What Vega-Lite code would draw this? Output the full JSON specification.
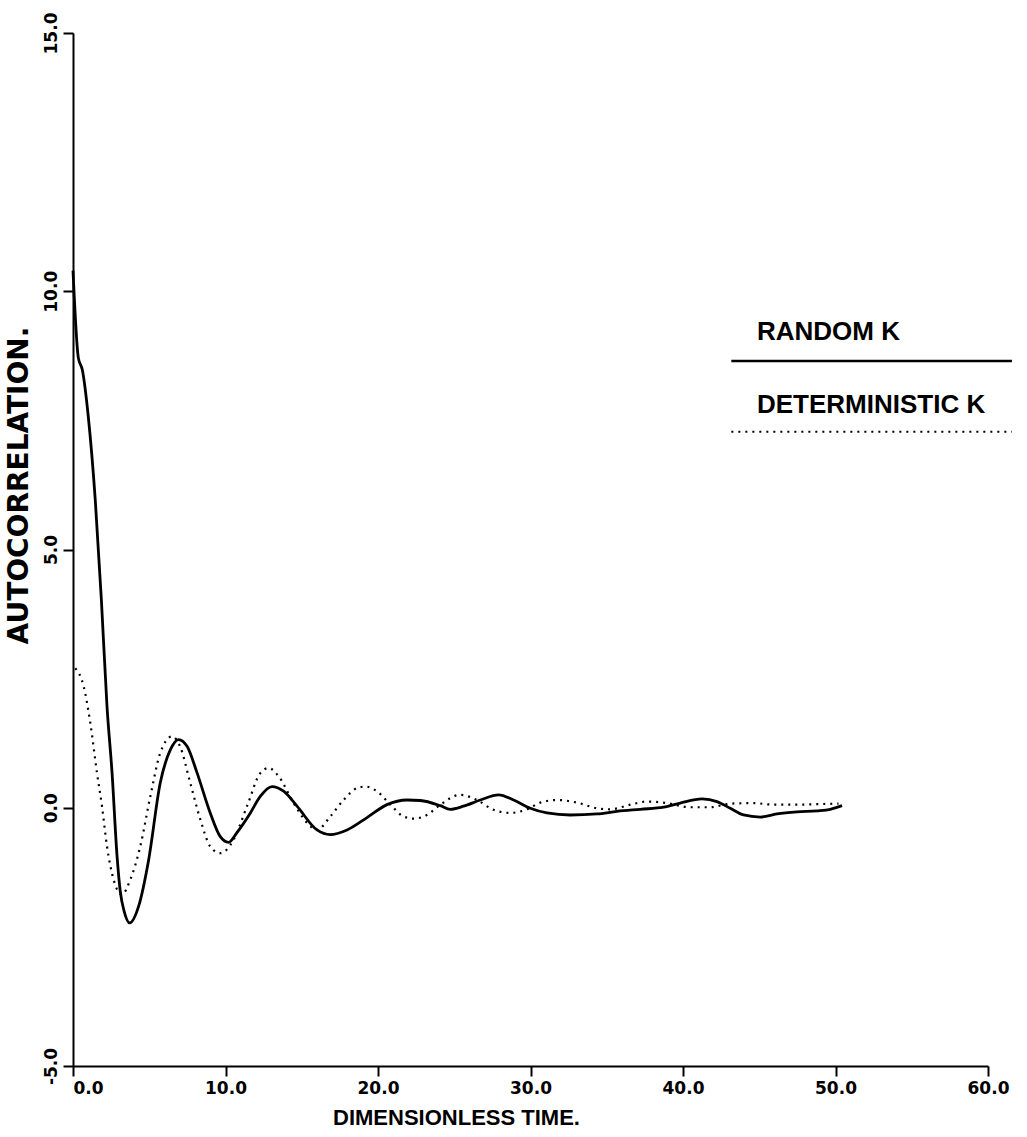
{
  "$schema": "https://vega.github.io/schema/vega-lite/v6.json",
  "width": 915,
  "height": 1033,
  "autosize": {"type": "none"},
  "padding": {"left": 73, "top": 33, "right": 39, "bottom": 71},
  "background": "white",
  "config": {"view": {"stroke": null}},
  "datasets": {
    "random": [
      {"t": 0.0, "v": 10.4}, {"t": 0.35, "v": 8.71}, {"t": 0.61, "v": 8.48}, {"t": 1.0, "v": 7.58},
      {"t": 1.46, "v": 5.96}, {"t": 1.86, "v": 4.03}, {"t": 2.23, "v": 1.96}, {"t": 2.56, "v": 0.68},
      {"t": 2.89, "v": -0.94}, {"t": 3.10, "v": -1.62}, {"t": 3.36, "v": -2.01}, {"t": 3.72, "v": -2.23},
      {"t": 4.30, "v": -1.91}, {"t": 4.96, "v": -1.01}, {"t": 5.72, "v": 0.48}, {"t": 6.38, "v": 1.12},
      {"t": 6.92, "v": 1.32}, {"t": 7.48, "v": 1.19}, {"t": 8.13, "v": 0.68}, {"t": 9.00, "v": -0.10},
      {"t": 9.66, "v": -0.56}, {"t": 10.20, "v": -0.67}, {"t": 10.75, "v": -0.48}, {"t": 11.63, "v": -0.10},
      {"t": 12.28, "v": 0.22}, {"t": 13.05, "v": 0.41}, {"t": 13.81, "v": 0.32}, {"t": 14.69, "v": 0.03},
      {"t": 16.00, "v": -0.43}, {"t": 16.87, "v": -0.52}, {"t": 17.97, "v": -0.43}, {"t": 19.28, "v": -0.19},
      {"t": 20.59, "v": 0.06}, {"t": 21.90, "v": 0.15}, {"t": 22.77, "v": 0.14}, {"t": 24.09, "v": 0.04},
      {"t": 24.74, "v": -0.03}, {"t": 25.61, "v": 0.03}, {"t": 26.71, "v": 0.15}, {"t": 27.91, "v": 0.25},
      {"t": 28.89, "v": 0.15}, {"t": 29.99, "v": -0.01}, {"t": 31.08, "v": -0.10}, {"t": 32.61, "v": -0.14},
      {"t": 34.36, "v": -0.12}, {"t": 35.67, "v": -0.07}, {"t": 37.20, "v": -0.03}, {"t": 38.73, "v": 0.01},
      {"t": 39.82, "v": 0.09}, {"t": 41.25, "v": 0.17}, {"t": 42.23, "v": 0.12}, {"t": 43.10, "v": -0.01},
      {"t": 43.97, "v": -0.14}, {"t": 45.07, "v": -0.18}, {"t": 46.16, "v": -0.12}, {"t": 47.48, "v": -0.08},
      {"t": 48.79, "v": -0.06}, {"t": 49.66, "v": -0.03}, {"t": 50.43, "v": 0.04}
    ],
    "deterministic": [
      {"t": 0.15, "v": 2.70}, {"t": 0.70, "v": 2.35}, {"t": 1.13, "v": 1.65}, {"t": 1.57, "v": 0.68},
      {"t": 1.90, "v": 0.03}, {"t": 2.23, "v": -0.75}, {"t": 2.66, "v": -1.39}, {"t": 3.21, "v": -1.68},
      {"t": 3.76, "v": -1.39}, {"t": 4.41, "v": -0.75}, {"t": 5.07, "v": 0.22}, {"t": 5.72, "v": 1.06},
      {"t": 6.49, "v": 1.38}, {"t": 7.02, "v": 1.19}, {"t": 7.69, "v": 0.48}, {"t": 8.35, "v": -0.23},
      {"t": 9.00, "v": -0.75}, {"t": 9.66, "v": -0.88}, {"t": 10.53, "v": -0.62}, {"t": 11.41, "v": 0.03},
      {"t": 12.28, "v": 0.67}, {"t": 12.83, "v": 0.77}, {"t": 13.48, "v": 0.61}, {"t": 14.47, "v": 0.09},
      {"t": 15.34, "v": -0.29}, {"t": 16.00, "v": -0.43}, {"t": 16.87, "v": -0.17}, {"t": 17.74, "v": 0.15},
      {"t": 18.62, "v": 0.38}, {"t": 19.17, "v": 0.41}, {"t": 19.93, "v": 0.32}, {"t": 20.81, "v": 0.06},
      {"t": 21.68, "v": -0.17}, {"t": 22.33, "v": -0.21}, {"t": 23.21, "v": -0.14}, {"t": 24.09, "v": 0.06},
      {"t": 25.38, "v": 0.25}, {"t": 26.49, "v": 0.15}, {"t": 27.58, "v": -0.04}, {"t": 28.68, "v": -0.10},
      {"t": 29.77, "v": -0.03}, {"t": 30.64, "v": 0.10}, {"t": 31.74, "v": 0.15}, {"t": 33.05, "v": 0.10},
      {"t": 34.36, "v": -0.01}, {"t": 35.23, "v": -0.03}, {"t": 36.54, "v": 0.06}, {"t": 37.64, "v": 0.12},
      {"t": 38.95, "v": 0.09}, {"t": 40.48, "v": 0.01}, {"t": 41.79, "v": 0.01}, {"t": 43.10, "v": 0.08},
      {"t": 44.63, "v": 0.09}, {"t": 45.94, "v": 0.06}, {"t": 47.48, "v": 0.06}, {"t": 48.79, "v": 0.07},
      {"t": 50.20, "v": 0.08}
    ]
  },
  "layer": [
    {
      "data": {"name": "random"},
      "mark": {"type": "line", "color": "black", "strokeWidth": 2.8, "interpolate": "monotone"},
      "encoding": {
        "x": {
          "field": "t", "type": "quantitative",
          "scale": {"domain": [0, 60], "nice": false, "zero": false},
          "axis": {
            "values": [0, 10, 20, 30, 40, 50, 60], "format": ".1f", "grid": false,
            "domainColor": "black", "domainWidth": 2, "tickColor": "black", "tickWidth": 2, "tickSize": 10,
            "labelFont": "DejaVu Sans", "labelFontWeight": "bold", "labelFontSize": 17, "labelColor": "black",
            "labelPadding": 4, "labelFlush": false,
            "labelAlign": {"condition": {"test": "datum.value == 0", "value": "left"}, "value": "center"},
            "title": "DIMENSIONLESS TIME.", "titleFont": "Liberation Sans", "titleFontWeight": "bold",
            "titleFontSize": 22, "titleColor": "black", "titleX": 383, "titleY": 51,
            "titleAlign": "center", "titleBaseline": "middle"
          }
        },
        "y": {
          "field": "v", "type": "quantitative",
          "scale": {"domain": [-5, 15], "nice": false, "zero": false},
          "axis": {
            "values": [-5, 0, 5, 10, 15], "grid": false,
            "labelExpr": "datum.value < 0 ? '-' + format(-datum.value, '.1f') : format(datum.value, '.1f')",
            "domainColor": "black", "domainWidth": 2, "tickColor": "black", "tickWidth": 2, "tickSize": 10,
            "labelFont": "DejaVu Sans", "labelFontWeight": "bold", "labelFontSize": 17, "labelColor": "black",
            "labelAngle": -90, "labelAlign": "center", "labelBaseline": "bottom", "labelPadding": 3,
            "title": "AUTOCORRELATION.", "titleFont": "DejaVu Sans", "titleFontWeight": "bold",
            "titleFontSize": 28, "titleColor": "black", "titleX": -54, "titleY": 452,
            "titleAngle": -90, "titleAlign": "center", "titleBaseline": "middle"
          }
        }
      }
    },
    {
      "data": {"name": "deterministic"},
      "mark": {"type": "line", "color": "black", "strokeWidth": 2.2, "strokeDash": [2, 5], "interpolate": "monotone"},
      "encoding": {
        "x": {"field": "t", "type": "quantitative"},
        "y": {"field": "v", "type": "quantitative"}
      }
    },
    {
      "data": {"values": [{}]},
      "mark": {"type": "rule", "color": "black", "strokeWidth": 2.4},
      "encoding": {"x": {"datum": 43.17}, "x2": {"datum": 61.57}, "y": {"datum": 8.65}}
    },
    {
      "data": {"values": [{}]},
      "mark": {"type": "rule", "color": "black", "strokeWidth": 2, "strokeDash": [2, 5]},
      "encoding": {"x": {"datum": 43.17}, "x2": {"datum": 61.57}, "y": {"datum": 7.28}}
    },
    {
      "data": {"values": [{}]},
      "mark": {"type": "text", "text": "RANDOM K", "align": "left", "baseline": "middle", "font": "Liberation Sans", "fontWeight": "bold", "fontSize": 26, "color": "black"},
      "encoding": {"x": {"datum": 44.85}, "y": {"datum": 9.22}}
    },
    {
      "data": {"values": [{}]},
      "mark": {"type": "text", "text": "DETERMINISTIC K", "align": "left", "baseline": "middle", "font": "Liberation Sans", "fontWeight": "bold", "fontSize": 26, "color": "black"},
      "encoding": {"x": {"datum": 44.85}, "y": {"datum": 7.80}}
    }
  ]
}
